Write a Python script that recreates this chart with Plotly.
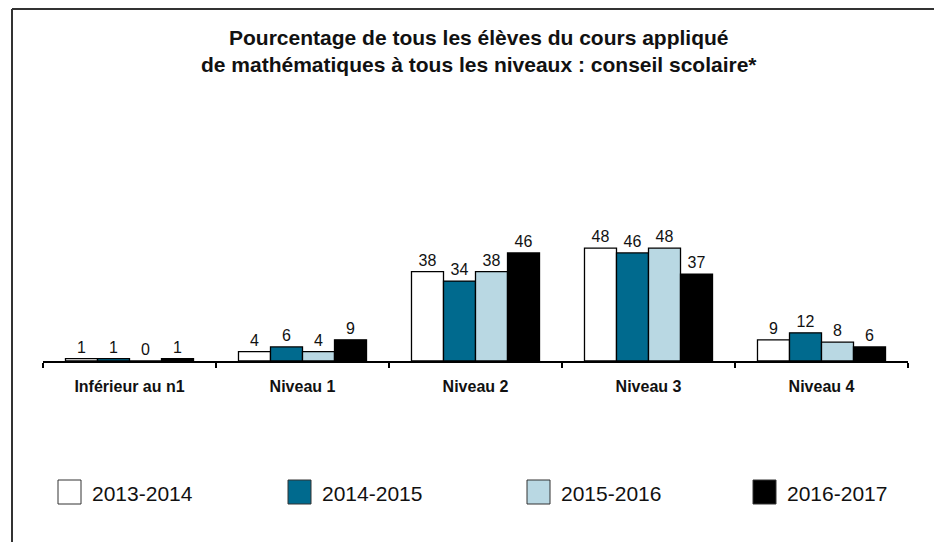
import plotly.graph_objects as go

categories = ["Inférieur au n1", "Niveau 1", "Niveau 2", "Niveau 3", "Niveau 4"]
series_names = ["2013-2014", "2014-2015", "2015-2016", "2016-2017"]
values_2013_2014 = [1, 4, 38, 48, 9]
values_2014_2015 = [1, 6, 34, 46, 12]
values_2015_2016 = [0, 4, 38, 48, 8]
values_2016_2017 = [1, 9, 46, 37, 6]
series_values = [values_2013_2014, values_2014_2015, values_2015_2016, values_2016_2017]
colors = ["#FFFFFF", "#006A8E", "#B9D8E3", "#000000"]

title_text = ("<b>Pourcentage de tous les élèves du cours appliqué<br>"
              "de mathématiques à tous les niveaux : conseil scolaire*</b>")

OFF = 8               # page body margin
W, H = 942 - OFF, 542 - OFF
PL, PR = 43, 908      # plot area left/right (page px)
PT, PB = 220, 361     # plot area top/bottom (page px)


def px_x(x):
    return (x - PL) / (PR - PL)


def px_y(y):
    return (PB - y) / (PB - PT)


fig = go.Figure()
for name, vals, col in zip(series_names, series_values, colors):
    fig.add_trace(go.Bar(
        x=categories, y=vals, name=name,
        marker=dict(color=col, line=dict(color="#000000", width=1.3)),
        text=[str(v) for v in vals], textposition="outside",
        textfont=dict(family="Liberation Sans, Arial", size=16, color="#111111"),
        cliponaxis=False, showlegend=False,
    ))

shapes = []
for (xa, ya, xb, yb) in [(12, 9, 12, 560), (12, 9, 939, 9), (939, 9, 939, 560)]:
    shapes.append(dict(type="line", xref="paper", yref="paper",
                       x0=px_x(xa), x1=px_x(xb), y0=px_y(ya), y1=px_y(yb),
                       line=dict(color="#333333", width=2)))

annotations = [dict(xref="paper", yref="paper", x=px_x(479), y=px_y(51),
                    text=title_text, showarrow=False, xanchor="center", yanchor="middle",
                    font=dict(family="Liberation Sans, Arial", size=21, color="#111111"))]

leg_x = [58, 288, 527, 753]
for lx, name, col in zip(leg_x, series_names, colors):
    shapes.append(dict(type="rect", xref="paper", yref="paper",
                       x0=px_x(lx), x1=px_x(lx + 23), y0=px_y(504), y1=px_y(480),
                       fillcolor=col, line=dict(color="#333333", width=1)))
    annotations.append(dict(xref="paper", yref="paper", x=px_x(lx + 32), y=px_y(493),
                            text=name, showarrow=False, xanchor="left", yanchor="middle",
                            font=dict(family="Liberation Sans, Arial", size=21, color="#111111")))

fig.update_layout(
    width=W, height=H,
    margin=dict(l=PL - OFF, r=942 - PR, t=PT - OFF, b=(H + OFF) - PB, pad=0),
    paper_bgcolor="white", plot_bgcolor="white",
    barmode="group", bargap=0.26, bargroupgap=0,
    xaxis=dict(showline=True, linecolor="#000000", linewidth=1.5,
               ticks="outside", ticklen=5, tickcolor="#000000", tickwidth=1.5,
               tickson="boundaries", ticklabelstandoff=10,
               tickfont=dict(family="Liberation Sans, Arial", size=16, color="#111111", weight="bold"),
               showgrid=False, zeroline=False, fixedrange=True),
    yaxis=dict(range=[0, 60], visible=False, showgrid=False, zeroline=False, fixedrange=True),
    shapes=shapes, annotations=annotations,
    font=dict(family="Liberation Sans, Arial"),
)

fig.write_html("out.html")
